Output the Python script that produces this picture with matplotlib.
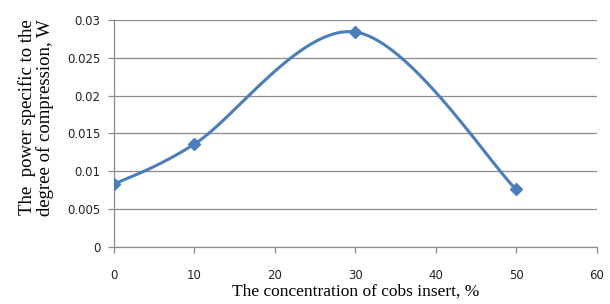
import numpy as np
import matplotlib
matplotlib.use("Agg")
import matplotlib.pyplot as plt

# data
conc = [0, 10, 30, 50]
power = [0.0083, 0.0136, 0.0284, 0.0076]
xticks = [0, 10, 20, 30, 40, 50, 60]
yticks = [0, 0.005, 0.01, 0.015, 0.02, 0.025, 0.03]
ytick_labels = ["0", "0.005", "0.01", "0.015", "0.02", "0.025", "0.03"]


def smooth(xs, ys, n=40):
    # excel-like smoothed line: catmull-rom bezier through the points
    xs = np.asarray(xs, float)
    ys = np.asarray(ys, float)
    px = np.concatenate([[xs[0]], xs, [xs[-1]]])
    py = np.concatenate([[ys[0]], ys, [ys[-1]]])
    outx, outy = [], []
    t = np.linspace(0, 1, n)
    for i in range(1, len(px) - 2):
        p0 = np.array([px[i], py[i]])
        p3 = np.array([px[i + 1], py[i + 1]])
        p1 = p0 + (np.array([px[i + 1], py[i + 1]]) - np.array([px[i - 1], py[i - 1]])) / 6
        p2 = p3 - (np.array([px[i + 2], py[i + 2]]) - np.array([px[i], py[i]])) / 6
        b = ((1 - t) ** 3)[:, None] * p0 + (3 * (1 - t) ** 2 * t)[:, None] * p1 \
            + (3 * (1 - t) * t ** 2)[:, None] * p2 + (t ** 3)[:, None] * p3
        outx.extend(b[:, 0])
        outy.extend(b[:, 1])
    return outx, outy


fig = plt.figure(figsize=(6.1, 3.04), dpi=100)
ax = fig.add_axes([0.187, 0.1875, 0.791, 0.747])

blue = "#4a7ebb"
sx, sy = smooth(conc, power)
ax.plot(sx, sy, color=blue, lw=2.2, zorder=3)
ax.plot(conc, power, ls="none", marker="D", ms=6, color=blue, zorder=4)

ax.set_xlim(0, 60)
ax.set_ylim(0, 0.03)
ax.set_xticks(xticks)
ax.set_yticks(yticks)
ax.set_yticklabels(ytick_labels)
ax.grid(axis="y", color="#8c8c8c", lw=0.9)
ax.set_axisbelow(True)

for s in ["top", "right"]:
    ax.spines[s].set_visible(False)
for s in ["left", "bottom"]:
    ax.spines[s].set_color("#8c8c8c")
    ax.spines[s].set_linewidth(0.9)

ax.tick_params(axis="both", colors="#8c8c8c", length=4, width=0.9, labelsize=8.5, labelcolor="#222222")
ax.tick_params(axis="x", pad=12)
ax.tick_params(axis="y", pad=6)

ax.set_xlabel("The concentration of cobs insert, %", family="Liberation Serif", fontsize=12.5, labelpad=1)
ax.set_ylabel("The  power specific to the\ndegree of compression, W", family="Liberation Serif",
              fontsize=13.5, linespacing=1.0, labelpad=9)
ax.yaxis.label.set_y(0.57)

fig.savefig("out.png", dpi=100)
